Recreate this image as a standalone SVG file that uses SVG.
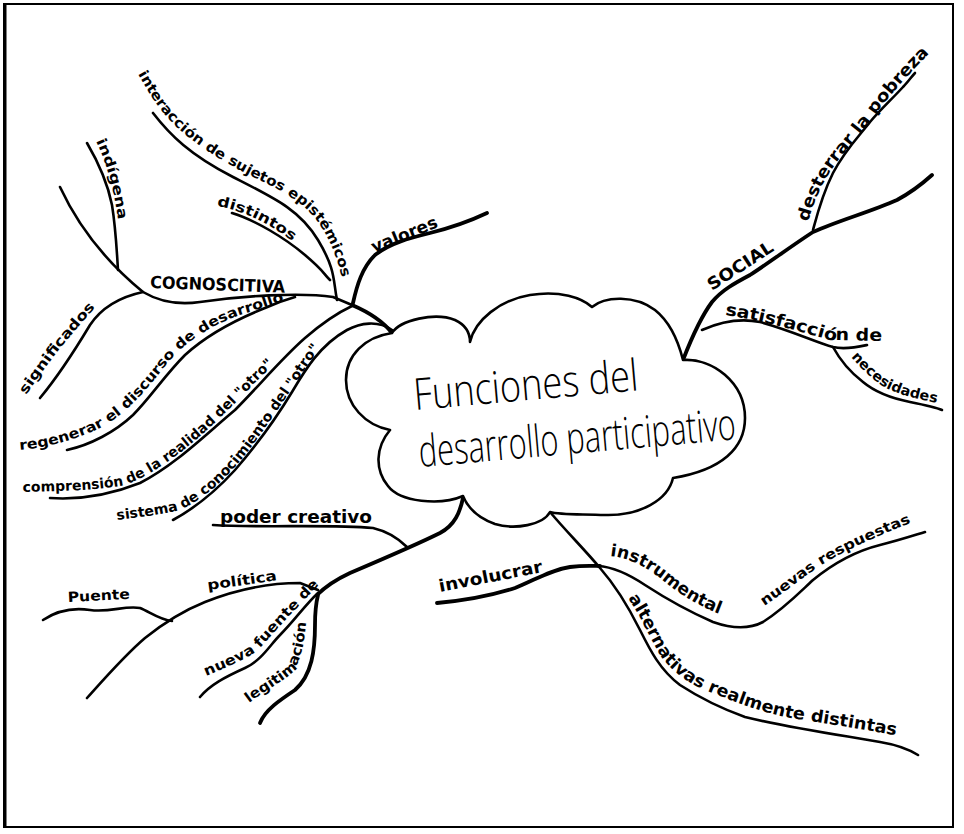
<svg xmlns="http://www.w3.org/2000/svg" width="964" height="834" viewBox="0 0 964 834">
<style>
.ln{fill:none;stroke:#000;stroke-width:2.6;stroke-linecap:round;stroke-linejoin:round}
.tk{fill:none;stroke:#000;stroke-width:3.8;stroke-linecap:round;stroke-linejoin:round}
.lb{font-family:"DejaVu Sans Condensed","DejaVu Sans",sans-serif;font-weight:bold;font-size:14px;fill:#000}
.lg{font-family:"DejaVu Sans Condensed","DejaVu Sans",sans-serif;font-weight:bold;font-size:17px;fill:#000}
.ct{font-family:"Open Sans","DejaVu Sans",sans-serif;font-weight:300;font-size:44px;fill:#000}
</style>
<defs>
<path id="b1" d="M138,74 C150,95 160,112 180,130 C205,152 235,168 257,179 C285,192 308,205 322,228 C334,248 341,270 345,292"/>
<path id="b2" d="M217,206 C240,210 265,221 291,240"/>
<path id="b3" d="M96,141 C107,165 115,190 119,228"/>
<path id="b5" d="M26,395 C42,372 60,347 74,332 C82,322 90,313 100,303"/>
<path id="b6" d="M20,450 C45,448 75,440 100,428 C130,412 150,385 170,360 C190,338 220,320 250,312 C265,307 278,302 290,300"/>
<path id="b7" d="M23,492 C55,491 95,491 125,485 C160,472 195,442 222,416 C247,392 268,368 288,352"/>
<path id="b8" d="M117,520 C140,517 160,515 180,510 C205,498 225,480 245,455 C265,430 280,405 295,385 C308,365 320,345 335,332"/>
<path id="b13" d="M206,676 C225,668 245,660 258,650 C272,635 285,620 298,607 C306,598 312,592 320,584"/>
<path id="b14" d="M249,703 C262,693 279,684 292,673 C301,661 305,643 307,612"/>
<path id="b16" d="M610,556 C630,558 648,568 665,582 C685,598 705,610 732,618"/>
<path id="b17" d="M764,606 C785,592 800,580 818,567 C845,550 880,535 925,517"/>
<path id="b18" d="M628,598 C640,615 648,635 660,655 C672,672 690,685 710,692 C735,702 760,712 790,718 C830,724 880,732 920,740"/>
<path id="b19" d="M808,222 C814,200 824,178 840,158 C855,140 868,125 880,108 C895,90 912,70 935,48"/>
<path id="b20" d="M725,315 C760,320 795,330 830,340 L888,341"/>
<path id="b21" d="M851,357 C861,368 871,379 886,388 C905,397 926,401 950,405"/>
</defs>
<rect x="4" y="4" width="949" height="823" fill="#fff" stroke="#000" stroke-width="2"/>
<line x1="5" y1="4" x2="5" y2="827" stroke="#000" stroke-width="3"/>

<g id="connectors">
<path class="ln" d="M153,113 C170,135 190,155 233,177 S300,210 318,240 S333,280 337,300"/>
<path class="ln" d="M232,213 C255,220 285,238 305,255 S322,272 330,280"/>
<path class="ln" d="M87,143 C97,160 107,180 112,205 C116,230 117,255 118,270"/>
<path class="ln" d="M60,187 C80,230 110,265 143,292 C160,302 180,305 200,302 C240,296 300,292 333,297 L352,305"/>
<path class="ln" d="M40,398 C55,380 75,350 90,325 C100,310 115,298 143,292"/>
<path class="ln" d="M67,450 C90,445 115,432 133,415 C150,398 165,375 185,355 C210,332 240,318 265,308 C278,302 288,299 295,297"/>
<path class="ln" d="M50,498 C80,500 110,495 140,483 C175,465 205,435 235,410 C260,385 280,360 305,338 C320,325 335,314 352,306"/>
<path class="ln" d="M173,520 C195,508 215,492 235,470 C255,447 275,420 292,392 C305,370 320,345 347,330 C360,323 378,320 392,330"/>
<path class="tk" d="M352,305 C366,311 382,320 392,333"/>
<path class="tk" d="M353,303 C357,285 362,268 375,255 C390,243 410,238 430,233 C450,228 468,222 487,213"/>
<path class="ln" d="M213,525 C260,528 330,524 373,528 C390,532 400,540 407,547"/>
<path class="tk" d="M463,498 C460,512 455,525 440,533 C420,543 390,556 350,573 C335,580 325,587 317,595"/>
<path class="ln" d="M87,698 C105,678 125,655 145,638 C165,622 185,610 205,602 C235,590 265,583 300,583 L318,590"/>
<path class="ln" d="M43,620 C55,612 70,607 90,610 C110,613 125,605 140,608 C150,612 160,620 172,621"/>
<path class="ln" d="M200,697 C210,685 225,677 245,668 C262,660 270,645 280,635 C295,620 305,605 318,593"/>
<path class="tk" d="M260,723 C265,710 280,700 295,690 C312,675 315,650 315,625 C315,612 316,603 318,595"/>
<path class="tk" d="M437,603 C460,601 490,596 515,588 C535,580 550,570 570,567 C585,565 595,566 600,566"/>
<path class="ln" d="M598,566 C615,567 630,575 645,585 C665,598 690,612 713,622 C730,628 748,630 763,622 C785,608 800,592 813,580 C835,562 860,550 880,545 C900,540 915,535 925,532"/>
<path class="ln" d="M550,512 C565,530 585,550 600,568 C615,585 630,610 640,630 C650,650 660,670 680,685 C700,698 720,708 745,717 C790,728 840,735 880,742 C898,745 910,750 918,755"/>
<path class="tk" d="M683,360 C690,342 700,318 712,302 C722,290 735,283 750,275 C770,262 790,247 813,232 C840,220 870,212 897,200 C910,193 922,184 932,175"/>
<path class="ln" d="M813,230 C817,215 822,195 833,173 C845,150 860,135 870,122 C880,110 893,98 903,87 C908,82 912,76 915,73"/>
<path class="ln" d="M702,330 C720,322 740,318 760,322 C790,330 815,342 833,347 C845,350 858,347 867,345"/>
<path class="ln" d="M833,347 C840,360 850,372 863,382 C875,392 890,398 910,402 C925,405 935,407 942,410"/>
</g>

<g id="center">
<path fill="#fff" stroke="#000" stroke-width="2.6" stroke-linejoin="round" d="M392,333 C400,320 435,312 455,320 C468,326 470,335 470,342 C475,320 500,300 530,295 C560,290 582,298 592,307 C605,296 635,295 655,310 C670,322 678,340 683,360 C712,358 745,382 745,418 C745,448 722,470 673,478 C668,500 640,516 605,515 C580,514 560,515 550,512 C543,525 515,530 495,524 C478,518 468,508 463,496 C440,506 400,502 388,486 C375,470 375,448 390,430 C365,425 346,405 346,380 C346,355 365,337 392,333 Z"/>
<text class="ct" x="415" y="410" transform="rotate(-5 415 410)" textLength="225" lengthAdjust="spacingAndGlyphs">Funciones del</text>
<text class="ct" x="420" y="467" transform="rotate(-5 420 467)" textLength="318" lengthAdjust="spacingAndGlyphs">desarrollo participativo</text>
</g>

<g id="cognoscitiva">
<text class="lg" x="150" y="288" transform="rotate(2 150 288)" textLength="135" lengthAdjust="spacingAndGlyphs">COGNOSCITIVA</text>
</g>
<g id="interaccion"><text class="lb"><textPath href="#b1" textLength="298" lengthAdjust="spacingAndGlyphs">interacción de sujetos epistémicos</textPath></text></g>
<g id="distintos"><text class="lb"><textPath href="#b2" textLength="84" lengthAdjust="spacingAndGlyphs">distintos</textPath></text></g>
<g id="indigena"><text class="lb"><textPath href="#b3" textLength="82" lengthAdjust="spacingAndGlyphs">indígena</textPath></text></g>
<g id="significados"><text class="lb"><textPath href="#b5" textLength="112" lengthAdjust="spacingAndGlyphs">significados</textPath></text></g>
<g id="regenerar"><text class="lb"><textPath href="#b6" textLength="312" lengthAdjust="spacingAndGlyphs">regenerar el discurso de desarrollo</textPath></text></g>
<g id="comprension"><text class="lb" font-size="13"><textPath href="#b7" textLength="295" lengthAdjust="spacingAndGlyphs">comprensión de la realidad del "otro"</textPath></text></g>
<g id="sistema"><text class="lb" font-size="13"><textPath href="#b8" textLength="280" lengthAdjust="spacingAndGlyphs">sistema de conocimiento del "otro"</textPath></text></g>
<g id="valores"><text class="lg" x="374" y="253" transform="rotate(-22 374 253)" textLength="70" lengthAdjust="spacingAndGlyphs">valores</text></g>
<g id="poder"><text class="lg" x="220" y="523" font-size="19" textLength="152" lengthAdjust="spacingAndGlyphs">poder creativo</text></g>
<g id="politica"><text class="lb" x="208" y="590" transform="rotate(-8 208 590)" textLength="70" lengthAdjust="spacingAndGlyphs">política</text></g>
<g id="puente"><text class="lb" x="68" y="602" transform="rotate(-3 68 602)" textLength="62" lengthAdjust="spacingAndGlyphs">Puente</text></g>
<g id="nueva"><text class="lb"><textPath href="#b13" textLength="148" lengthAdjust="spacingAndGlyphs">nueva fuente de</textPath></text></g>
<g id="legitimacion"><text class="lb"><textPath href="#b14" textLength="106" lengthAdjust="spacingAndGlyphs">legitimación</textPath></text></g>
<g id="involucrar"><text class="lg" x="440" y="592" font-size="18" transform="rotate(-11 440 592)" textLength="105" lengthAdjust="spacingAndGlyphs">involucrar</text></g>
<g id="instrumental"><text class="lg" font-size="16"><textPath href="#b16" textLength="125" lengthAdjust="spacingAndGlyphs">instrumental</textPath></text></g>
<g id="nuevas"><text class="lb" font-size="15"><textPath href="#b17" textLength="170" lengthAdjust="spacingAndGlyphs">nuevas respuestas</textPath></text></g>
<g id="alternativas"><text class="lg" font-size="16"><textPath href="#b18" textLength="320" lengthAdjust="spacingAndGlyphs">alternativas realmente distintas</textPath></text></g>
<g id="social"><text class="lg" x="712" y="291" font-weight="normal" transform="rotate(-33 712 291)" textLength="75" lengthAdjust="spacingAndGlyphs">SOCIAL</text></g>
<g id="desterrar"><text class="lg" font-size="16"><textPath href="#b19" textLength="210" lengthAdjust="spacingAndGlyphs">desterrar la pobreza</textPath></text></g>
<g id="satisfaccion"><text class="lg" font-size="16"><textPath href="#b20" textLength="160" lengthAdjust="spacingAndGlyphs">satisfacción de</textPath></text></g>
<g id="necesidades"><text class="lb" font-size="15"><textPath href="#b21" textLength="100" lengthAdjust="spacingAndGlyphs">necesidades</textPath></text></g>
</svg>
